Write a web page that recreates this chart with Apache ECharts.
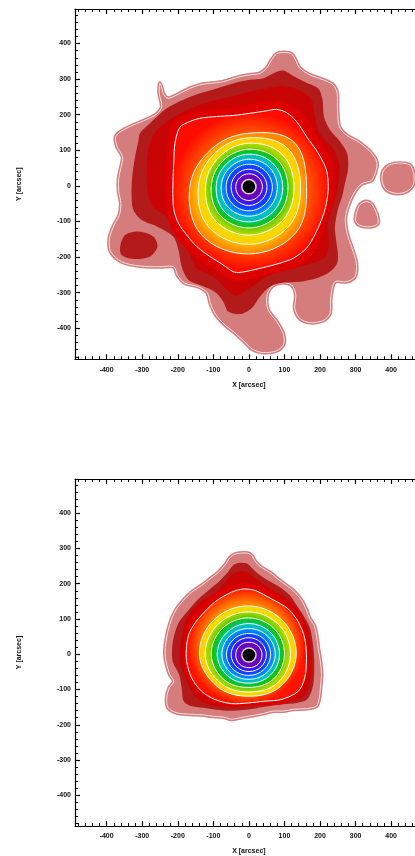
<!DOCTYPE html>
<html>
<head>
<meta charset="utf-8">
<script src="https://cdn.jsdelivr.net/npm/echarts@6/dist/echarts.min.js"></script>
<style>
  html, body { margin: 0; padding: 0; background: #ffffff; overflow: hidden; }
  #chart { width: 430px; height: 856px; }
</style>
</head>
<body>
<div id="chart"></div>
<script>
// ---------- axes (arcsec) ----------
const xRange = [-489, 489];
const yRange = [-487, 497];
const majorTicks = [-400, -300, -200, -100, 0, 100, 200, 300, 400];
const minorTicks = [-480, -460, -440, -420, -380, -360, -340, -320, -280, -260, -240, -220,
  -180, -160, -140, -120, -80, -60, -40, -20, 20, 40, 60, 80, 120, 140, 160, 180,
  220, 240, 260, 280, 320, 340, 360, 380, 420, 440, 460, 480];

// ---------- upper map: contour outlines [x, y] in arcsec ----------
const topPinkMain = [[-250,288],[-239,256],[-227,246],[-194,260],[-166,274],[-138,284],[-110,288],[-72,293],[-25,307],[3,312],[31,316],[50,331],[64,354],[78,371],[98,375],[120,371],[131,354],[143,331],[171,312],[209,298],[237,284],[248,260],[249,213],[254,167],[274,143],[312,121],[345,92],[360,65],[355,36],[344,15],[317,6],[298,-16],[282,-49],[271,-91],[276,-133],[290,-175],[302,-217],[298,-255],[274,-269],[242,-269],[230,-311],[228,-358],[209,-378],[171,-384],[143,-372],[129,-344],[132,-306],[120,-278],[92,-272],[64,-283],[50,-311],[54,-348],[78,-381],[96,-414],[98,-444],[78,-463],[40,-468],[10,-459],[-16,-434],[-44,-409],[-70,-388],[-93,-362],[-108,-331],[-117,-300],[-142,-283],[-180,-273],[-201,-250],[-211,-227],[-250,-227],[-306,-225],[-358,-213],[-389,-184],[-392,-147],[-379,-110],[-364,-81],[-360,-49],[-366,-16],[-366,22],[-359,54],[-355,82],[-370,109],[-375,137],[-360,153],[-325,171],[-287,187],[-259,202],[-245,223],[-252,260]];
const topPinkBlobA = [[377,40],[396,59],[424,64],[452,59],[463,36],[462,3],[443,-16],[415,-21],[387,-11],[375,12]];
const topPinkBlobB = [[302,-77],[312,-53],[331,-44],[345,-51],[359,-77],[363,-105],[345,-114],[316,-112],[301,-100]];
const topDarkMain = [[-306,148],[-278,176],[-231,218],[-184,242],[-138,260],[-91,274],[-44,288],[3,298],[40,302],[68,316],[96,324],[125,309],[162,290],[195,274],[207,242],[211,195],[228,157],[256,125],[276,92],[279,50],[270,7],[262,-30],[250,-67],[242,-114],[245,-152],[250,-189],[248,-217],[228,-241],[190,-259],[143,-269],[96,-272],[59,-283],[31,-311],[7,-344],[-25,-360],[-58,-353],[-72,-325],[-96,-297],[-138,-278],[-170,-264],[-189,-227],[-198,-180],[-213,-142],[-259,-114],[-301,-96],[-325,-67],[-330,-21],[-328,26],[-320,82],[-311,125]];
const topDarkBlob = [[-362,-170],[-348,-138],[-311,-128],[-269,-142],[-257,-170],[-278,-198],[-325,-205],[-358,-194]];
const topRedOuter = [[-283,101],[-269,143],[-231,181],[-184,209],[-138,228],[-91,242],[-44,251],[3,265],[50,274],[96,281],[143,268],[176,242],[185,195],[199,148],[240,101],[255,54],[250,-2],[238,-49],[222,-105],[225,-161],[215,-200],[162,-222],[106,-236],[50,-255],[3,-287],[-35,-309],[-63,-290],[-100,-255],[-147,-231],[-170,-180],[-194,-124],[-231,-86],[-271,-58],[-286,-11],[-287,54]];
const topRedInner = [[-215,180],[-180,200],[-140,212],[-91,217],[-44,222],[3,230],[50,238],[78,240],[112,230],[150,205],[180,160],[212,110],[236,55],[240,0],[232,-55],[215,-110],[200,-155],[180,-195],[140,-225],[95,-240],[50,-250],[12,-260],[-25,-268],[-50,-265],[-82,-245],[-122,-220],[-162,-190],[-195,-155],[-218,-118],[-232,-72],[-236,-21],[-234,26],[-232,75],[-228,125]];
const topLevel1 = [[-194,165],[-166,181],[-138,190],[-91,195],[-44,198],[3,204],[50,211],[78,215],[106,206],[134,181],[162,139],[195,92],[218,45],[223,-2],[218,-49],[204,-96],[185,-138],[162,-175],[125,-203],[87,-217],[50,-227],[12,-236],[-25,-243],[-44,-241],[-72,-222],[-110,-198],[-147,-170],[-175,-138],[-198,-105],[-211,-67],[-214,-21],[-213,26],[-211,73],[-208,120]];
// inner contours: radius (arcsec) toward E, NE, N, NW, W, SW, S, SE
const topCenter = [0, -2];
const topRings = [
  [20, 20, 20, 20, 20, 20, 20, 20],
  [38, 37, 36, 36, 37, 38, 39, 38],
  [51, 50, 49, 49, 50, 52, 53, 52],
  [66, 64, 63, 63, 64, 67, 68, 67],
  [80, 79, 77, 76, 78, 82, 83, 82],
  [95, 94, 91, 90, 92, 98, 99, 98],
  [110, 110, 105, 103, 106, 114, 116, 114],
  [127, 130, 122, 118, 122, 134, 136, 134],
  [145, 153, 137, 134, 142, 160, 162, 158],
  [162, 178, 150, 149, 166, 190, 189, 185]
];

// ---------- lower map ----------
const botPinkMain = [[-53,274],[-39,284],[-7,287],[7,281],[20,260],[36,246],[59,232],[82,213],[106,195],[129,176],[148,153],[162,125],[171,101],[183,82],[190,54],[195,17],[201,-21],[204,-58],[201,-96],[198,-124],[190,-147],[162,-154],[125,-156],[96,-161],[68,-161],[40,-168],[3,-175],[-25,-180],[-49,-184],[-72,-178],[-100,-176],[-128,-172],[-166,-170],[-203,-166],[-227,-152],[-231,-124],[-224,-96],[-211,-77],[-222,-58],[-231,-30],[-236,3],[-233,36],[-227,68],[-217,101],[-203,129],[-184,153],[-161,176],[-133,195],[-110,213],[-86,232],[-67,253]];
const botDarkMain = [[-39,256],[-7,258],[7,246],[26,228],[54,209],[87,190],[115,167],[134,139],[156,106],[172,73],[179,36],[183,-2],[184,-39],[182,-77],[176,-105],[162,-130],[134,-138],[96,-142],[59,-147],[22,-153],[-16,-158],[-53,-160],[-91,-157],[-128,-152],[-166,-146],[-184,-132],[-189,-96],[-196,-58],[-214,-21],[-216,17],[-210,54],[-196,92],[-170,125],[-142,157],[-114,181],[-86,204],[-63,228]];
const botRedOuter = [[-39,232],[-7,235],[22,213],[54,190],[92,167],[125,142],[150,106],[166,68],[173,26],[176,-11],[175,-49],[170,-86],[150,-122],[96,-135],[50,-141],[3,-146],[-44,-150],[-91,-146],[-125,-138],[-150,-120],[-178,-70],[-192,-30],[-194,7],[-190,45],[-182,82],[-168,115],[-132,152],[-91,176],[-63,209]];
const botRedInner = [[-158,112],[-108,162],[-55,192],[-16,202],[20,198],[70,175],[122,135],[148,100],[165,48],[169,-11],[164,-72],[146,-112],[98,-140],[45,-144],[-2,-146],[-50,-147],[-103,-140],[-140,-112],[-172,-72],[-185,-21],[-185,28],[-176,72]];
const botLevel1 = [[-142,101],[-96,148],[-49,176],[-16,185],[17,181],[64,157],[110,129],[139,92],[157,45],[162,-11],[157,-67],[139,-105],[92,-128],[45,-133],[-2,-138],[-49,-140],[-96,-128],[-133,-105],[-161,-67],[-175,-21],[-175,26],[-166,64]];
const botCenter = [0, -2];
const botRings = [
  [20, 20, 20, 20, 20, 20, 20, 20],
  [37, 37, 36, 37, 37, 37, 36, 37],
  [49, 49, 49, 50, 50, 48, 47, 48],
  [61, 62, 61, 62, 63, 60, 58, 59],
  [74, 75, 75, 76, 76, 72, 69, 71],
  [86, 88, 89, 89, 89, 84, 80, 83],
  [100, 103, 105, 106, 106, 99, 92, 97],
  [117, 120, 122, 123, 123, 113, 105, 113],
  [133, 136, 139, 140, 139, 126, 117, 126]
];

// ---------- styling ----------
const PINK = '#d57c7c';
const PINK_LINE = '#f7e4e4';
const DARK_RED = '#b31a1a';
const RED_OUTER = '#c80404';
const RED_INNER = '#de0000';
// band colours from the core outward: [edge colour, inner colour]
const bandColors = [
  null,
  ['#5a08c8', '#7400b4'],
  ['#2a22ff', '#4a10e0'],
  ['#0058ff', '#1a34ff'],
  ['#009cf8', '#0070ff'],
  ['#00c8a0', '#00b8d8'],
  ['#18c400', '#00c468'],
  ['#b0d800', '#60cc00'],
  ['#ffd000', '#e8e000'],
  ['#ff8a00', '#ffb400']
];
const FONT = "'Liberation Sans', Arial, Helvetica, sans-serif";

function ringPoints(center, radii) {
  const n = radii.length;
  return radii.map((r, k) => {
    const a = k * 2 * Math.PI / n;
    return [center[0] + r * Math.cos(a), center[1] + r * Math.sin(a)];
  });
}
function meanOf(a) { return a.reduce((s, v) => s + v, 0) / a.length; }
function radial(edge, inner, ratio) {
  return new echarts.graphic.RadialGradient(0.5, 0.5, 0.5, [
    { offset: Math.max(0, Math.min(0.98, ratio)), color: inner },
    { offset: 1, color: edge }
  ]);
}

function buildLayers(p) {
  const L = [];
  p.pink.forEach(poly => L.push({ pts: poly, fill: PINK, stroke: PINK, lw: 4, smooth: 0.3 }));
  p.pink.forEach(poly => L.push({ pts: poly, fill: 'none', stroke: PINK_LINE, lw: 1, smooth: 0.3 }));
  p.dark.forEach(poly => L.push({ pts: poly, fill: DARK_RED, smooth: 0.3 }));
  L.push({ pts: p.redOuter, fill: RED_OUTER, smooth: 0.3 });
  L.push({ pts: p.redInner, fill: RED_INNER, smooth: 0.3 });
  const rings = p.rings;
  L.push({ pts: p.level1, fill: radial(p.level1Colors[0], p.level1Colors[1], 0.72), stroke: '#ffffff', lw: 1, smooth: 0.3 });
  for (let k = rings.length - 1; k >= 1; k--) {
    const ratio = meanOf(rings[k - 1]) / meanOf(rings[k]);
    const c = bandColors[k];
    L.push({ pts: ringPoints(p.center, rings[k]), fill: radial(c[0], c[1], ratio), stroke: '#ffffff', lw: 1, smooth: 0.375 });
  }
  L.push({ pts: ringPoints(p.center, rings[0]), fill: '#000000', stroke: '#d4d4d4', lw: 1.5, smooth: 0.375 });
  return L;
}

const panels = [
  { pink: [topPinkMain, topPinkBlobA, topPinkBlobB], dark: [topDarkMain, topDarkBlob],
    redOuter: topRedOuter, redInner: topRedInner, level1: topLevel1, level1Colors: ['#ff0c00', '#ff5a00'],
    center: topCenter, rings: topRings },
  { pink: [botPinkMain], dark: [botDarkMain],
    redOuter: botRedOuter, redInner: botRedInner, level1: botLevel1, level1Colors: ['#ff1400', '#ff9000'],
    center: botCenter, rings: botRings }
];

// ---------- layout ----------
const PLOT_LEFT = 75;
const PLOT_W = 347.8;
const PLOT_H = 350.3;
const PLOT_TOPS = [9, 479];

const labelStyle = { fontSize: 7, fontWeight: 'bold', fontFamily: FONT, color: '#111111' };
const lineStyle = { color: '#000000', width: 1.2 };

function axisSet(dim, g) {
  const isX = dim === 'x';
  const base = { gridIndex: g, type: 'value', min: isX ? xRange[0] : yRange[0], max: isX ? xRange[1] : yRange[1], splitLine: { show: false } };
  const sides = isX ? ['bottom', 'top'] : ['left', 'right'];
  const out = [];
  sides.forEach((side, si) => {
    const major = Object.assign({}, base, {
      position: side,
      axisLine: { show: true, onZero: false, lineStyle: lineStyle },
      axisTick: { show: true, inside: true, length: 5, customValues: majorTicks, lineStyle: { color: '#000', width: 1.2 } },
      axisLabel: si === 0
        ? Object.assign({ show: true, customValues: majorTicks, margin: isX ? 7 : 4 }, labelStyle)
        : { show: false }
    });
    if (si === 0) {
      major.name = isX ? 'X [arcsec]' : 'Y [arcsec]';
      major.nameLocation = 'middle';
      major.nameGap = isX ? 22 : 52;
      major.nameTextStyle = Object.assign({}, labelStyle);
    }
    const minor = Object.assign({}, base, {
      position: side,
      axisLine: { show: false, onZero: false },
      axisTick: { show: true, inside: true, length: 3, customValues: minorTicks, lineStyle: { color: '#000', width: 1 } },
      axisLabel: { show: false }
    });
    out.push(major, minor);
  });
  return out;
}

const grids = [], xAxes = [], yAxes = [], series = [];
panels.forEach((p, g) => {
  grids.push({ left: PLOT_LEFT, top: PLOT_TOPS[g], width: PLOT_W, height: PLOT_H, containLabel: false });
  xAxes.push(...axisSet('x', g));
  yAxes.push(...axisSet('y', g));
  const layers = buildLayers(p);
  series.push({
    type: 'custom',
    xAxisIndex: g * 4,
    yAxisIndex: g * 4,
    clip: true,
    silent: true,
    animation: false,
    data: layers.map((_, i) => [0, 0, i]),
    renderItem: function (params, api) {
      const layer = layers[params.dataIndex];
      const pts = layer.pts.map(pt => api.coord(pt));
      return {
        type: 'polygon',
        shape: { points: pts, smooth: layer.smooth },
        style: { fill: layer.fill, stroke: layer.stroke || null, lineWidth: layer.lw || 0 }
      };
    }
  });
});

const chart = echarts.init(document.getElementById('chart'));
chart.setOption({
  backgroundColor: '#ffffff',
  animation: false,
  grid: grids,
  xAxis: xAxes,
  yAxis: yAxes,
  series: series
});
</script>
</body>
</html>
